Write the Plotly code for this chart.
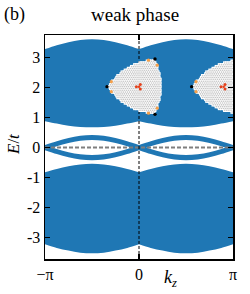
import numpy as np
import plotly.graph_objects as go

# ---- data ----
# k samples on one half (0 .. pi), every pi/8 ; curves are mirror-symmetric in k
k_half = [0, np.pi/8, np.pi/4, 3*np.pi/8, np.pi/2, 5*np.pi/8, 3*np.pi/4, 7*np.pi/8, np.pi]
top_band_upper = [3.28, 3.41, 3.51, 3.58, 3.61, 3.58, 3.51, 3.41, 3.28]
top_band_lower = [0.88, 0.80, 0.73, 0.69, 0.68, 0.69, 0.73, 0.80, 0.88]
bot_band_upper = [-0.82, -0.71, -0.62, -0.56, -0.54, -0.56, -0.62, -0.71, -0.82]
bot_band_lower = [-3.22, -3.34, -3.43, -3.50, -3.52, -3.50, -3.43, -3.34, -3.22]
lens_outer = [0.085, 0.213, 0.322, 0.395, 0.42, 0.395, 0.322, 0.213, 0.085]
lens_inner = [-0.085, 0.043, 0.152, 0.225, 0.25, 0.225, 0.152, 0.043, -0.085]

y_ticks = [-3, -2, -1, 0, 1, 2, 3]
y_tick_text = ["-3", "-2", "-1", "0", "1", "2", "3"]
x_ticks = [-np.pi, 0, np.pi]
x_tick_text = ["\u2212\u03c0", "0", "\u03c0"]

inset_centers_k = [0.0, 2.83]
inset_center_E = 2.03

BLUE = "#1f77b4"
FONT = "Liberation Serif"

W, H = 250, 294
ML, MR, MT, MB = 45, 17, 35, 35

fig = go.Figure()

def add_band(upper, lower):
    for sgn in (-1, 1):
        kk = [sgn * v for v in k_half]
        fig.add_trace(go.Scatter(x=kk, y=lower, mode="lines", line=dict(width=0, shape="spline", color=BLUE),
                                 showlegend=False, hoverinfo="skip"))
        fig.add_trace(go.Scatter(x=kk, y=upper, mode="lines", line=dict(width=0, shape="spline", color=BLUE),
                                 fill="tonexty", fillcolor=BLUE, showlegend=False, hoverinfo="skip"))

add_band(top_band_upper, top_band_lower)
add_band(bot_band_upper, bot_band_lower)
add_band(lens_outer, lens_inner)
add_band([-v for v in lens_inner], [-v for v in lens_outer])

# dashed reference lines
fig.add_trace(go.Scatter(x=[-np.pi, np.pi], y=[0, 0], mode="lines",
                         line=dict(color="#7f7f7f", width=2, dash="4px,2px"), showlegend=False, hoverinfo="skip"))
fig.add_trace(go.Scatter(x=[0, 0], y=[-3.71, 3.75], mode="lines",
                         line=dict(color="black", width=1, dash="3px,2px"), showlegend=False, hoverinfo="skip"))

# ---- insets: Reuleaux-shaped lattice flakes ----
sx = 188 / (2 * np.pi)   # px per unit k
sy = 224 / 7.46          # px per unit E
R = 31.0
s = R * np.sqrt(3)
ang = np.deg2rad([180, 60, -60])
V = np.stack([R * np.cos(ang), R * np.sin(ang)], axis=1)

a = 2.1
pts = []
for j in range(-25, 26):
    for i in range(-25, 26):
        u = i * a + (j % 2) * a / 2
        v = j * a * np.sqrt(3) / 2
        if all(np.hypot(u - V[m, 0], v - V[m, 1]) <= s - 0.8 for m in range(3)):
            pts.append((u, v))
pts = np.array(pts)

def arc_point(v1, v2, v3, d):
    a1 = np.arctan2(v1[1] - v3[1], v1[0] - v3[0])
    a2 = np.arctan2(v2[1] - v3[1], v2[0] - v3[0])
    da = (a2 - a1 + np.pi) % (2 * np.pi) - np.pi
    t = a1 + np.sign(da) * d / s
    return v3 + s * np.array([np.cos(t), np.sin(t)])

orange = []
for m in range(3):
    o1, o2 = (m + 1) % 3, (m + 2) % 3
    orange.append(arc_point(V[m], V[o1], V[o2], 6.0))
    orange.append(arc_point(V[m], V[o2], V[o1], 6.0))
orange = np.array(orange)
Vb = V * (R + 1.0) / R
red = V * 2.6 / R

for kc in inset_centers_k:
    X = kc + pts[:, 0] / sx
    Y = inset_center_E + pts[:, 1] / sy
    fig.add_trace(go.Scatter(x=X, y=Y, mode="markers", cliponaxis=False,
                             marker=dict(symbol="square", size=3.4, color="white", line=dict(width=0)),
                             showlegend=False, hoverinfo="skip"))
    fig.add_trace(go.Scatter(x=X, y=Y, mode="markers", cliponaxis=False,
                             marker=dict(symbol="circle", size=1.6, color="#c6c6c6", line=dict(width=0)),
                             showlegend=False, hoverinfo="skip"))
    fig.add_trace(go.Scatter(x=kc + orange[:, 0] / sx, y=inset_center_E + orange[:, 1] / sy, mode="markers",
                             cliponaxis=False, marker=dict(size=3.2, color="#f5a04a", line=dict(width=0)),
                             showlegend=False, hoverinfo="skip"))
    fig.add_trace(go.Scatter(x=kc + Vb[:, 0] / sx, y=inset_center_E + Vb[:, 1] / sy, mode="markers",
                             cliponaxis=False, marker=dict(size=3.4, color="black", line=dict(width=0)),
                             showlegend=False, hoverinfo="skip"))
    fig.add_trace(go.Scatter(x=kc + red[:, 0] / sx, y=inset_center_E + red[:, 1] / sy, mode="markers",
                             cliponaxis=False, marker=dict(size=3.0, color="#e4411b", line=dict(width=0)),
                             showlegend=False, hoverinfo="skip"))
    fig.add_trace(go.Scatter(x=[kc], y=[inset_center_E], mode="markers",
                             cliponaxis=False, marker=dict(size=2.5, color="#e4411b", line=dict(width=0)),
                             showlegend=False, hoverinfo="skip"))

axis_common = dict(showline=True, linecolor="black", linewidth=1.5, mirror="ticks",
                   ticks="inside", ticklen=5, tickwidth=1.4, tickcolor="black",
                   showgrid=False, zeroline=False,
                   tickfont=dict(family=FONT, size=16, color="black"))

def px2paper(px, py):
    x = (px - ML) / (W - ML - MR)
    y = 1 - (py - MT) / (H - MT - MB)
    return x, y

def ann(text, px, py, size, angle=0):
    x, y = px2paper(px, py)
    return dict(text=text, x=x, y=y, xref="paper", yref="paper", showarrow=False,
                xanchor="center", yanchor="middle", textangle=angle,
                font=dict(family=FONT, size=size, color="black"))

fig.update_layout(
    width=W, height=H,
    margin=dict(l=ML, r=MR, t=MT, b=MB, pad=0),
    paper_bgcolor="white", plot_bgcolor="white",
    xaxis=dict(range=[-np.pi, np.pi], tickvals=x_ticks, ticktext=x_tick_text, **axis_common),
    yaxis=dict(range=[-3.71, 3.75], tickvals=y_ticks, ticktext=y_tick_text, **axis_common),
    annotations=[
        ann("weak phase", 135, 14, 19),
        ann("(b)", 14, 14, 18),
        ann("<i>E</i>/<i>t</i>", 13, 144, 17, -90),
        ann("<i>k<sub>z</sub></i>", 170, 278, 18),
    ],
)
fig.write_html("out.html", config={"displayModeBar": False, "staticPlot": True},
               post_script="document.body.style.margin='0px';document.body.style.padding='0px';")
